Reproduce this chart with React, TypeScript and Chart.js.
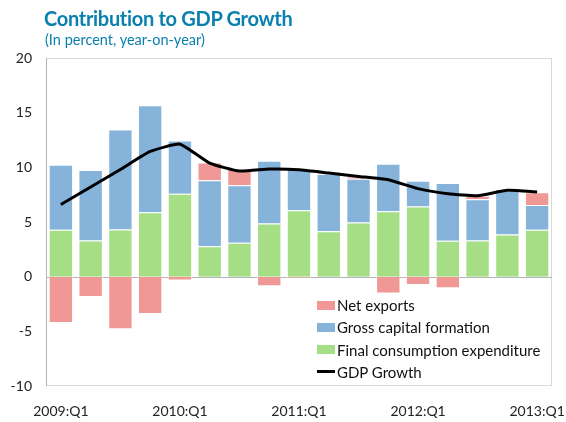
import React, { useEffect, useRef } from "react";
import { Chart, registerables } from "chart.js";

Chart.register(...registerables);

const quarters = [
  "2009:Q1", "2009:Q2", "2009:Q3", "2009:Q4",
  "2010:Q1", "2010:Q2", "2010:Q3", "2010:Q4",
  "2011:Q1", "2011:Q2", "2011:Q3", "2011:Q4",
  "2012:Q1", "2012:Q2", "2012:Q3", "2012:Q4",
  "2013:Q1",
];
const finalConsumption = [4.28, 3.31, 4.31, 5.89, 7.59, 2.79, 3.1, 4.86, 6.07, 4.16, 4.95, 5.98, 6.41, 3.28, 3.31, 3.86, 4.28];
const grossCapital = [5.96, 6.44, 9.15, 9.79, 4.86, 6.02, 5.25, 5.74, 3.77, 5.23, 4.01, 4.35, 2.37, 5.29, 3.76, 3.98, 2.28];
const netExports = [-4.23, -1.86, -4.8, -3.41, -0.36, 1.64, 1.49, -0.88, -0.15, 0.21, 0.21, -1.55, -0.76, -1.07, 0.34, 0.18, 1.15];
const gdpGrowth = [6.6, 8.2, 9.8, 11.45, 12.12, 10.39, 9.66, 9.84, 9.78, 9.48, 9.17, 8.87, 8.05, 7.59, 7.41, 7.9, 7.75];
const yTicks = [-10, -5, 0, 5, 10, 15, 20];

const GREEN = "#a6de86";
const BLUE = "#85b3d9";
const PINK = "#ef9896";
const TITLE = "#0a80ae";
const FONT = "Lato, 'Open Sans', sans-serif";

const framePlugin = {
  id: "frame",
  beforeDatasetsDraw(chart: any) {
    const { ctx, chartArea } = chart;
    const y0 = chart.scales.y.getPixelForValue(0);
    ctx.save();
    ctx.lineWidth = 1;
    ctx.strokeStyle = "#d9d9d9";
    ctx.strokeRect(chartArea.left + 0.5, chartArea.top + 0.5, chartArea.right - chartArea.left - 1, chartArea.bottom - chartArea.top - 1);
    ctx.strokeStyle = "#b4b4b4";
    ctx.beginPath();
    ctx.moveTo(chartArea.left + 0.5, chartArea.top);
    ctx.lineTo(chartArea.left + 0.5, chartArea.bottom);
    ctx.moveTo(chartArea.left, Math.round(y0) + 0.5);
    ctx.lineTo(chartArea.right, Math.round(y0) + 0.5);
    ctx.stroke();
    ctx.restore();
  },
};

export default function App() {
  const ref = useRef<HTMLCanvasElement | null>(null);
  useEffect(() => {
    if (!ref.current) return;
    const chart = new Chart(ref.current, {
      type: "bar",
      data: {
        labels: quarters,
        datasets: [
          {
            type: "line",
            label: "GDP Growth",
            data: gdpGrowth,
            borderColor: "#000000",
            borderWidth: 3,
            pointRadius: 0,
            tension: 0.15,
            fill: false,
            order: 0,
          } as any,
          {
            label: "Final consumption expenditure",
            data: finalConsumption,
            backgroundColor: GREEN,
            borderColor: "rgba(255,255,255,0.45)",
            borderWidth: 1,
            order: 1,
          },
          {
            label: "Gross capital formation",
            data: grossCapital,
            backgroundColor: BLUE,
            borderColor: "rgba(255,255,255,0.45)",
            borderWidth: 1,
            order: 1,
          },
          {
            label: "Net exports",
            data: netExports,
            backgroundColor: PINK,
            borderColor: "rgba(255,255,255,0.45)",
            borderWidth: 1,
            order: 1,
          },
        ],
      },
      options: {
        responsive: false,
        animation: false,
        layout: { padding: { left: 0, top: 58, right: 14, bottom: 0 } },
        datasets: { bar: { categoryPercentage: 0.9, barPercentage: 0.91 } },
        plugins: { legend: { display: false }, tooltip: { enabled: false }, title: { display: false } },
        scales: {
          x: {
            stacked: true,
            offset: true,
            grid: { display: false, drawTicks: false },
            border: { display: false },
            ticks: {
              autoSkip: false,
              maxRotation: 0,
              padding: 17,
              color: "#222222",
              font: { family: FONT, size: 14 },
              callback: (v: any, i: number) => (i % 4 === 0 ? quarters[i] : ""),
            },
            afterFit: (s: any) => { s.height = 36; s.paddingLeft = 0; s.paddingRight = 0; },
          },
          y: {
            stacked: true,
            min: -10,
            max: 20,
            grid: { display: false, drawTicks: false },
            border: { display: false },
            afterBuildTicks: (s: any) => { s.ticks = yTicks.map((v) => ({ value: v })); },
            ticks: {
              padding: 14,
              color: "#222222",
              font: { family: FONT, size: 14 },
            },
            afterFit: (s: any) => { s.width = 46; s.paddingTop = 0; s.paddingBottom = 0; },
          },
        },
      },
      plugins: [framePlugin],
    });
    return () => chart.destroy();
  }, []);

  const legendItems = [
    { label: "Net exports", color: PINK, line: false },
    { label: "Gross capital formation", color: BLUE, line: false },
    { label: "Final consumption expenditure", color: GREEN, line: false },
    { label: "GDP Growth", color: "#000", line: true },
  ];

  return (
    <div style={{ position: "fixed", left: 0, top: 0, width: 566, height: 422, background: "#fff", fontFamily: FONT }}>
      <canvas ref={ref} width={566} height={422} style={{ position: "absolute", left: 0, top: 0 }} />
      <div style={{ position: "absolute", left: 44, top: 6, fontSize: 20, fontWeight: 700, color: TITLE, whiteSpace: "nowrap", lineHeight: "24px", letterSpacing: "-0.3px" }}>
        Contribution to GDP Growth
      </div>
      <div style={{ position: "absolute", left: 45, top: 31, fontSize: 14.5, color: TITLE, whiteSpace: "nowrap", lineHeight: "18px" }}>
        (In percent, year-on-year)
      </div>
      {legendItems.map((it, i) => (
        <div key={it.label} style={{ position: "absolute", left: 317, top: 295 + i * 22.3, height: 20, display: "flex", alignItems: "center", whiteSpace: "nowrap", fontSize: 15, color: "#111" }}>
          {it.line ? (
            <span style={{ display: "inline-block", width: 18, height: 3, background: "#000" }} />
          ) : (
            <span style={{ display: "inline-block", width: 18, height: 9, background: it.color }} />
          )}
          <span style={{ marginLeft: 2 }}>{it.label}</span>
        </div>
      ))}
    </div>
  );
}
